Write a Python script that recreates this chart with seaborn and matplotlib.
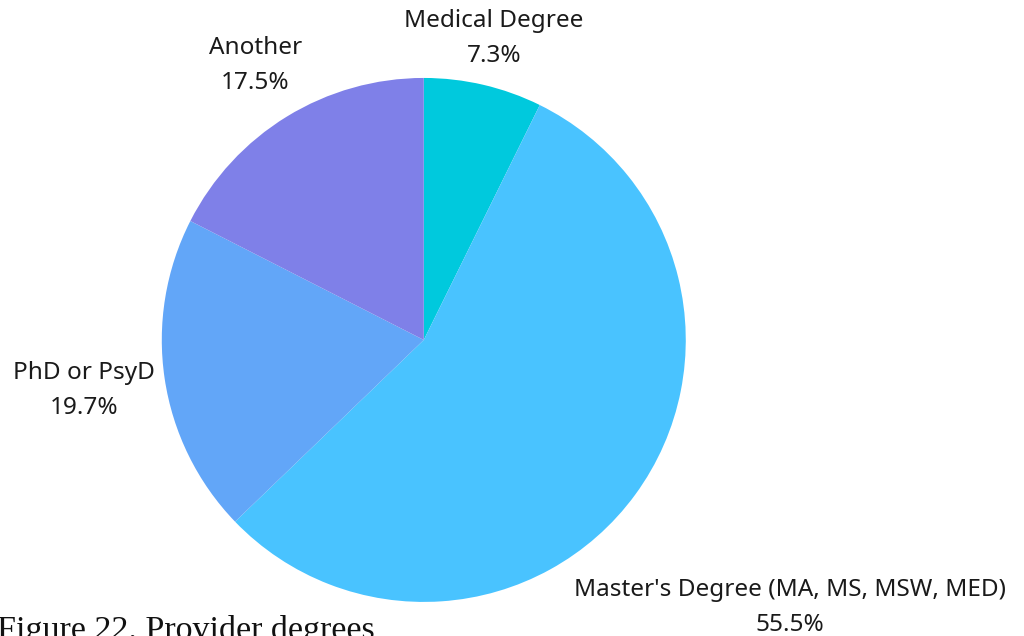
import numpy as np
import matplotlib
matplotlib.use("Agg")
import matplotlib.pyplot as plt
import seaborn as sns

sns.set_theme(style="white")
plt.rcParams["font.family"] = ["Noto Sans", "DejaVu Sans"]

# data
degrees = ["Medical Degree", "Master's Degree (MA, MS, MSW, MED)", "PhD or PsyD", "Another"]
shares = [7.3, 55.5, 19.7, 17.5]
colors = ["#00C9DD", "#49C3FF", "#62A6F8", "#7F80E8"]
label_dist = [1.18, 1.73, 1.31, 1.23]

fig = plt.figure(figsize=(10.24, 6.36), dpi=100)
ax = fig.add_axes([0.158, 0.0535, 0.5117, 0.824])

wedges, _ = ax.pie(shares, colors=colors, startangle=90, counterclock=False,
                   wedgeprops=dict(linewidth=0))
ax.set_xlim(-1, 1)
ax.set_ylim(-1, 1)
ax.set_aspect("equal")
ax.axis("off")

for w, name, val, d in zip(wedges, degrees, shares, label_dist):
    mid = np.deg2rad((w.theta1 + w.theta2) / 2)
    ax.text(d * np.cos(mid), d * np.sin(mid), f"{name}\n{val}%",
            ha="center", va="center", fontsize=17.5, color="#1a1a1a",
            linespacing=1.6, clip_on=False)

fig.text(-0.003, -0.005, "Figure 22. Provider degrees", ha="left", va="baseline",
         fontsize=24.5, family=["Liberation Serif", "DejaVu Serif"], color="#111111")

fig.savefig("out.png", dpi=100)
